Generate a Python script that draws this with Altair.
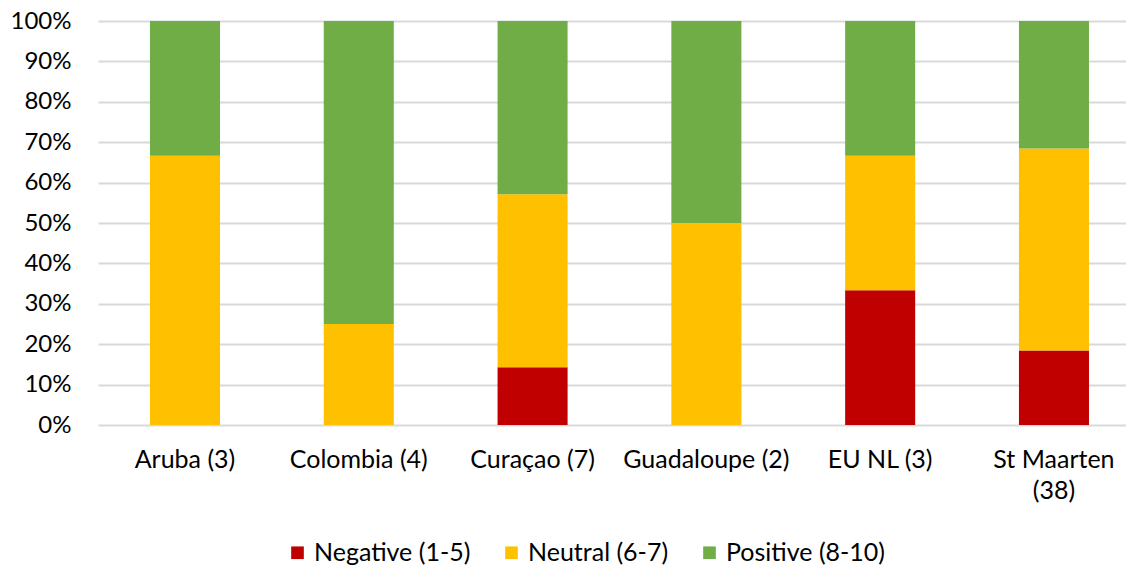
import altair as alt
import pandas as pd

categories = ["Aruba (3)", "Colombia (4)", "Curaçao (7)", "Guadaloupe (2)", "EU NL (3)", "St Maarten (38)"]
series = ["Negative (1-5)", "Neutral (6-7)", "Positive (8-10)"]
negative = [0, 0, 1, 0, 1, 7]
neutral = [2, 1, 3, 1, 1, 19]
positive = [1, 3, 3, 1, 1, 12]
colors = ["#C00000", "#FFC000", "#70AD47"]

rows = []
for i, c in enumerate(categories):
    for j, (s, vals) in enumerate(zip(series, [negative, neutral, positive])):
        if vals[i] > 0:
            rows.append({"category": c, "series": s, "count": vals[i], "order": j})
df = pd.DataFrame(rows)

FONT = "Lato"
FS = 25

chart = alt.Chart(df).mark_bar().encode(
    x=alt.X("category:N", sort=categories, title=None,
            scale=alt.Scale(paddingInner=0.597, paddingOuter=0.256, align=0.584, round=False),
            axis=alt.Axis(labelAngle=0, domain=False, ticks=False, labelPadding=22,
                          labelExpr="datum.label == 'St Maarten (38)' ? ['St Maarten', '(38)'] : datum.label",
                          labelLineHeight=31)),
    y=alt.Y("count:Q", stack="normalize", title=None,
            scale=alt.Scale(domain=[0, 1]),
            axis=alt.Axis(format="%", values=[0, 0.1, 0.2, 0.3, 0.4, 0.5, 0.6, 0.7, 0.8, 0.9, 1.0],
                          domain=False, ticks=False, labelPadding=27, labelFontSize=24,
                          gridColor="#d9d9d9", gridWidth=2)),
    color=alt.Color("series:N", sort=series,
                    scale=alt.Scale(domain=series, range=colors),
                    legend=alt.Legend(title=None, orient="none", direction="horizontal",
                                      legendX=187, legendY=519, symbolType="square",
                                      symbolSize=160, symbolStrokeWidth=0, columnPadding=28,
                                      labelFontSize=FS, labelFont=FONT, labelColor="#000000",
                                      symbolOpacity=1)),
    order=alt.Order("order:Q", sort="ascending"),
).properties(
    width=1028, height=404,
    autosize=alt.AutoSizeParams(type="none"),
    padding={"left": 90, "top": 13, "right": 0, "bottom": 146},
).configure_axis(
    labelFont=FONT, labelFontSize=FS, labelColor="#000000", grid=True,
).configure_axisX(grid=False).configure_view(stroke=None)

chart.save("out.html", embed_options={"renderer": "svg", "actions": False})
